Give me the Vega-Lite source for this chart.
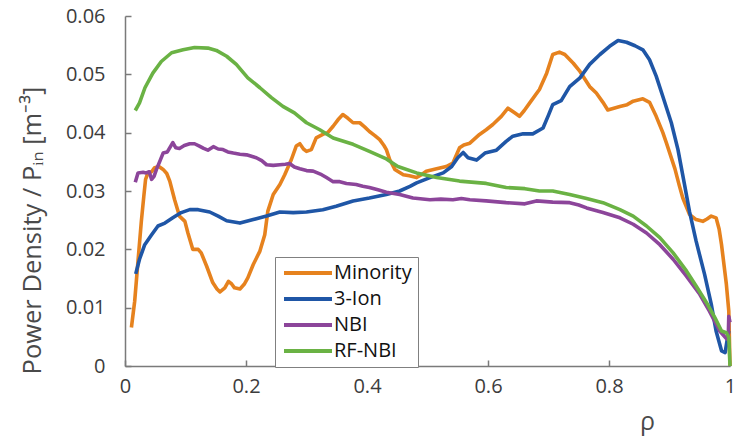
{
  "$schema": "https://vega.github.io/schema/vega-lite/v6.json",
  "width": 605,
  "height": 350,
  "autosize": {"type": "none"},
  "padding": {"left": 125, "top": 16, "right": 6, "bottom": 72},
  "background": "white",
  "config": {
    "view": {"stroke": null},
    "axis": {
      "grid": false,
      "domainColor": "#7a7a7a",
      "domainWidth": 1.5,
      "tickColor": "#7a7a7a",
      "tickWidth": 1.5,
      "tickSize": -6,
      "labelFont": "Open Sans",
      "labelFontSize": 20,
      "labelColor": "#3c3c3c",
      "labelFlush": false,
      "titleFont": "Open Sans",
      "titleColor": "#4a4a4a",
      "titleFontWeight": "normal"
    }
  },
  "datasets": {
    "curves": [
      {"series":"Minority","rho":0.0106,"p":0.0066},{"series":"Minority","rho":0.016,"p":0.0111},{"series":"Minority","rho":0.0215,"p":0.018},{"series":"Minority","rho":0.027,"p":0.0248},{"series":"Minority","rho":0.031,"p":0.029},{"series":"Minority","rho":0.034,"p":0.032},{"series":"Minority","rho":0.038,"p":0.0331},{"series":"Minority","rho":0.044,"p":0.0333},{"series":"Minority","rho":0.049,"p":0.034},{"series":"Minority","rho":0.056,"p":0.0342},{"series":"Minority","rho":0.063,"p":0.0337},{"series":"Minority","rho":0.069,"p":0.033},{"series":"Minority","rho":0.074,"p":0.0317},{"series":"Minority","rho":0.082,"p":0.0285},{"series":"Minority","rho":0.09,"p":0.0257},{"series":"Minority","rho":0.099,"p":0.0248},{"series":"Minority","rho":0.104,"p":0.0228},{"series":"Minority","rho":0.112,"p":0.02},{"series":"Minority","rho":0.121,"p":0.02},{"series":"Minority","rho":0.126,"p":0.0194},{"series":"Minority","rho":0.135,"p":0.0171},{"series":"Minority","rho":0.145,"p":0.0143},{"series":"Minority","rho":0.152,"p":0.0132},{"series":"Minority","rho":0.157,"p":0.0127},{"series":"Minority","rho":0.165,"p":0.0134},{"series":"Minority","rho":0.171,"p":0.0145},{"series":"Minority","rho":0.176,"p":0.0141},{"series":"Minority","rho":0.181,"p":0.0134},{"series":"Minority","rho":0.19,"p":0.0132},{"series":"Minority","rho":0.197,"p":0.014},{"series":"Minority","rho":0.203,"p":0.0151},{"series":"Minority","rho":0.212,"p":0.0174},{"series":"Minority","rho":0.223,"p":0.0197},{"series":"Minority","rho":0.231,"p":0.0225},{"series":"Minority","rho":0.236,"p":0.0265},{"series":"Minority","rho":0.245,"p":0.0294},{"series":"Minority","rho":0.256,"p":0.0311},{"series":"Minority","rho":0.264,"p":0.0328},{"series":"Minority","rho":0.275,"p":0.0354},{"series":"Minority","rho":0.283,"p":0.0377},{"series":"Minority","rho":0.289,"p":0.0381},{"series":"Minority","rho":0.295,"p":0.0372},{"series":"Minority","rho":0.3,"p":0.0368},{"series":"Minority","rho":0.308,"p":0.0371},{"series":"Minority","rho":0.316,"p":0.0391},{"series":"Minority","rho":0.327,"p":0.0397},{"series":"Minority","rho":0.335,"p":0.04},{"series":"Minority","rho":0.344,"p":0.0411},{"series":"Minority","rho":0.352,"p":0.0422},{"series":"Minority","rho":0.36,"p":0.0431},{"series":"Minority","rho":0.368,"p":0.0425},{"series":"Minority","rho":0.377,"p":0.0417},{"series":"Minority","rho":0.388,"p":0.0417},{"series":"Minority","rho":0.396,"p":0.041},{"series":"Minority","rho":0.404,"p":0.0402},{"series":"Minority","rho":0.413,"p":0.0395},{"series":"Minority","rho":0.421,"p":0.0388},{"series":"Minority","rho":0.428,"p":0.0378},{"series":"Minority","rho":0.432,"p":0.0371},{"series":"Minority","rho":0.4375,"p":0.0354},{"series":"Minority","rho":0.446,"p":0.0337},{"series":"Minority","rho":0.46,"p":0.0328},{"series":"Minority","rho":0.47,"p":0.0326},{"series":"Minority","rho":0.482,"p":0.0323},{"series":"Minority","rho":0.49,"p":0.0328},{"series":"Minority","rho":0.498,"p":0.0334},{"series":"Minority","rho":0.515,"p":0.0338},{"series":"Minority","rho":0.531,"p":0.0342},{"series":"Minority","rho":0.542,"p":0.0348},{"series":"Minority","rho":0.553,"p":0.0374},{"series":"Minority","rho":0.56,"p":0.0379},{"series":"Minority","rho":0.57,"p":0.0382},{"series":"Minority","rho":0.586,"p":0.0397},{"series":"Minority","rho":0.597,"p":0.0405},{"series":"Minority","rho":0.608,"p":0.0414},{"series":"Minority","rho":0.622,"p":0.0428},{"series":"Minority","rho":0.633,"p":0.0442},{"series":"Minority","rho":0.644,"p":0.0434},{"series":"Minority","rho":0.652,"p":0.0428},{"series":"Minority","rho":0.66,"p":0.0438},{"series":"Minority","rho":0.669,"p":0.0451},{"series":"Minority","rho":0.685,"p":0.0474},{"series":"Minority","rho":0.697,"p":0.0502},{"series":"Minority","rho":0.707,"p":0.0534},{"series":"Minority","rho":0.718,"p":0.0538},{"series":"Minority","rho":0.727,"p":0.0534},{"series":"Minority","rho":0.741,"p":0.0519},{"series":"Minority","rho":0.752,"p":0.0505},{"series":"Minority","rho":0.768,"p":0.0479},{"series":"Minority","rho":0.779,"p":0.0468},{"series":"Minority","rho":0.79,"p":0.0452},{"series":"Minority","rho":0.798,"p":0.0439},{"series":"Minority","rho":0.808,"p":0.0442},{"series":"Minority","rho":0.818,"p":0.0445},{"series":"Minority","rho":0.83,"p":0.0448},{"series":"Minority","rho":0.84,"p":0.0454},{"series":"Minority","rho":0.856,"p":0.0458},{"series":"Minority","rho":0.867,"p":0.0452},{"series":"Minority","rho":0.878,"p":0.0428},{"series":"Minority","rho":0.889,"p":0.04},{"series":"Minority","rho":0.895,"p":0.0382},{"series":"Minority","rho":0.909,"p":0.0338},{"series":"Minority","rho":0.916,"p":0.031},{"series":"Minority","rho":0.922,"p":0.0288},{"series":"Minority","rho":0.933,"p":0.026},{"series":"Minority","rho":0.944,"p":0.0251},{"series":"Minority","rho":0.955,"p":0.0248},{"series":"Minority","rho":0.962,"p":0.0252},{"series":"Minority","rho":0.969,"p":0.0257},{"series":"Minority","rho":0.977,"p":0.0254},{"series":"Minority","rho":0.982,"p":0.0235},{"series":"Minority","rho":0.986,"p":0.0208},{"series":"Minority","rho":0.994,"p":0.014},{"series":"Minority","rho":0.998,"p":0.0094},{"series":"Minority","rho":1.0,"p":0.0},
      {"series":"3-Ion","rho":0.0177,"p":0.0158},{"series":"3-Ion","rho":0.024,"p":0.0183},{"series":"3-Ion","rho":0.0326,"p":0.0208},{"series":"3-Ion","rho":0.044,"p":0.0225},{"series":"3-Ion","rho":0.0545,"p":0.024},{"series":"3-Ion","rho":0.066,"p":0.0245},{"series":"3-Ion","rho":0.079,"p":0.0254},{"series":"3-Ion","rho":0.093,"p":0.0263},{"series":"3-Ion","rho":0.107,"p":0.0268},{"series":"3-Ion","rho":0.121,"p":0.0268},{"series":"3-Ion","rho":0.14,"p":0.0264},{"series":"3-Ion","rho":0.154,"p":0.0257},{"series":"3-Ion","rho":0.168,"p":0.0249},{"series":"3-Ion","rho":0.19,"p":0.0245},{"series":"3-Ion","rho":0.212,"p":0.0251},{"series":"3-Ion","rho":0.234,"p":0.0257},{"series":"3-Ion","rho":0.256,"p":0.0264},{"series":"3-Ion","rho":0.278,"p":0.0263},{"series":"3-Ion","rho":0.3,"p":0.0264},{"series":"3-Ion","rho":0.327,"p":0.0268},{"series":"3-Ion","rho":0.349,"p":0.0274},{"series":"3-Ion","rho":0.377,"p":0.0283},{"series":"3-Ion","rho":0.404,"p":0.0288},{"series":"3-Ion","rho":0.432,"p":0.0294},{"series":"3-Ion","rho":0.454,"p":0.03},{"series":"3-Ion","rho":0.471,"p":0.0308},{"series":"3-Ion","rho":0.482,"p":0.0314},{"series":"3-Ion","rho":0.504,"p":0.0323},{"series":"3-Ion","rho":0.526,"p":0.0331},{"series":"3-Ion","rho":0.54,"p":0.0342},{"series":"3-Ion","rho":0.55,"p":0.0357},{"series":"3-Ion","rho":0.559,"p":0.0366},{"series":"3-Ion","rho":0.567,"p":0.0357},{"series":"3-Ion","rho":0.581,"p":0.0353},{"series":"3-Ion","rho":0.595,"p":0.0365},{"series":"3-Ion","rho":0.614,"p":0.037},{"series":"3-Ion","rho":0.63,"p":0.0385},{"series":"3-Ion","rho":0.641,"p":0.0394},{"series":"3-Ion","rho":0.658,"p":0.0398},{"series":"3-Ion","rho":0.674,"p":0.0398},{"series":"3-Ion","rho":0.691,"p":0.0408},{"series":"3-Ion","rho":0.7,"p":0.043},{"series":"3-Ion","rho":0.707,"p":0.0448},{"series":"3-Ion","rho":0.721,"p":0.0455},{"series":"3-Ion","rho":0.735,"p":0.0479},{"series":"3-Ion","rho":0.752,"p":0.0494},{"series":"3-Ion","rho":0.768,"p":0.0517},{"series":"3-Ion","rho":0.785,"p":0.0534},{"series":"3-Ion","rho":0.801,"p":0.0548},{"series":"3-Ion","rho":0.815,"p":0.0558},{"series":"3-Ion","rho":0.829,"p":0.0555},{"series":"3-Ion","rho":0.843,"p":0.0549},{"series":"3-Ion","rho":0.856,"p":0.0542},{"series":"3-Ion","rho":0.867,"p":0.0525},{"series":"3-Ion","rho":0.878,"p":0.0497},{"series":"3-Ion","rho":0.889,"p":0.0462},{"series":"3-Ion","rho":0.903,"p":0.0417},{"series":"3-Ion","rho":0.914,"p":0.0371},{"series":"3-Ion","rho":0.925,"p":0.031},{"series":"3-Ion","rho":0.933,"p":0.0265},{"series":"3-Ion","rho":0.944,"p":0.0214},{"series":"3-Ion","rho":0.958,"p":0.0157},{"series":"3-Ion","rho":0.969,"p":0.0106},{"series":"3-Ion","rho":0.977,"p":0.006},{"series":"3-Ion","rho":0.986,"p":0.0026},{"series":"3-Ion","rho":0.992,"p":0.0023},{"series":"3-Ion","rho":0.995,"p":0.0043},{"series":"3-Ion","rho":0.998,"p":0.006},
      {"series":"NBI","rho":0.017,"p":0.0315},{"series":"NBI","rho":0.0215,"p":0.0331},{"series":"NBI","rho":0.03,"p":0.0332},{"series":"NBI","rho":0.035,"p":0.0331},{"series":"NBI","rho":0.04,"p":0.0333},{"series":"NBI","rho":0.044,"p":0.032},{"series":"NBI","rho":0.048,"p":0.0325},{"series":"NBI","rho":0.052,"p":0.0337},{"series":"NBI","rho":0.058,"p":0.0352},{"series":"NBI","rho":0.063,"p":0.0365},{"series":"NBI","rho":0.07,"p":0.0367},{"series":"NBI","rho":0.079,"p":0.0383},{"series":"NBI","rho":0.084,"p":0.0374},{"series":"NBI","rho":0.09,"p":0.0373},{"series":"NBI","rho":0.098,"p":0.0378},{"series":"NBI","rho":0.107,"p":0.0381},{"series":"NBI","rho":0.115,"p":0.0381},{"series":"NBI","rho":0.123,"p":0.0377},{"series":"NBI","rho":0.13,"p":0.0373},{"series":"NBI","rho":0.137,"p":0.037},{"series":"NBI","rho":0.146,"p":0.0376},{"series":"NBI","rho":0.154,"p":0.0372},{"series":"NBI","rho":0.162,"p":0.0371},{"series":"NBI","rho":0.17,"p":0.0367},{"series":"NBI","rho":0.179,"p":0.0365},{"series":"NBI","rho":0.19,"p":0.0363},{"series":"NBI","rho":0.201,"p":0.0362},{"series":"NBI","rho":0.217,"p":0.0357},{"series":"NBI","rho":0.226,"p":0.0352},{"series":"NBI","rho":0.234,"p":0.0345},{"series":"NBI","rho":0.245,"p":0.0344},{"series":"NBI","rho":0.256,"p":0.0345},{"series":"NBI","rho":0.265,"p":0.0346},{"series":"NBI","rho":0.272,"p":0.0347},{"series":"NBI","rho":0.28,"p":0.0341},{"series":"NBI","rho":0.289,"p":0.0338},{"series":"NBI","rho":0.3,"p":0.0335},{"series":"NBI","rho":0.311,"p":0.0334},{"series":"NBI","rho":0.325,"p":0.0328},{"series":"NBI","rho":0.333,"p":0.0323},{"series":"NBI","rho":0.344,"p":0.0316},{"series":"NBI","rho":0.355,"p":0.0316},{"series":"NBI","rho":0.366,"p":0.0313},{"series":"NBI","rho":0.382,"p":0.0311},{"series":"NBI","rho":0.393,"p":0.0308},{"series":"NBI","rho":0.404,"p":0.0306},{"series":"NBI","rho":0.418,"p":0.0302},{"series":"NBI","rho":0.432,"p":0.0298},{"series":"NBI","rho":0.454,"p":0.0294},{"series":"NBI","rho":0.476,"p":0.0288},{"series":"NBI","rho":0.504,"p":0.0285},{"series":"NBI","rho":0.522,"p":0.0286},{"series":"NBI","rho":0.542,"p":0.0285},{"series":"NBI","rho":0.556,"p":0.0287},{"series":"NBI","rho":0.57,"p":0.0285},{"series":"NBI","rho":0.597,"p":0.0283},{"series":"NBI","rho":0.63,"p":0.028},{"series":"NBI","rho":0.661,"p":0.0278},{"series":"NBI","rho":0.68,"p":0.0283},{"series":"NBI","rho":0.707,"p":0.0281},{"series":"NBI","rho":0.735,"p":0.028},{"series":"NBI","rho":0.75,"p":0.0276},{"series":"NBI","rho":0.763,"p":0.0271},{"series":"NBI","rho":0.79,"p":0.0263},{"series":"NBI","rho":0.818,"p":0.0254},{"series":"NBI","rho":0.84,"p":0.0243},{"series":"NBI","rho":0.862,"p":0.0228},{"series":"NBI","rho":0.884,"p":0.0208},{"series":"NBI","rho":0.906,"p":0.0183},{"series":"NBI","rho":0.928,"p":0.0154},{"series":"NBI","rho":0.95,"p":0.0123},{"series":"NBI","rho":0.966,"p":0.0094},{"series":"NBI","rho":0.983,"p":0.006},{"series":"NBI","rho":0.994,"p":0.0047},{"series":"NBI","rho":0.997,"p":0.0045},{"series":"NBI","rho":0.998,"p":0.0085},{"series":"NBI","rho":1.0,"p":0.0075},
      {"series":"RF-NBI","rho":0.017,"p":0.0438},{"series":"RF-NBI","rho":0.024,"p":0.0451},{"series":"RF-NBI","rho":0.033,"p":0.0477},{"series":"RF-NBI","rho":0.046,"p":0.0502},{"series":"RF-NBI","rho":0.06,"p":0.0522},{"series":"RF-NBI","rho":0.077,"p":0.0537},{"series":"RF-NBI","rho":0.096,"p":0.0542},{"series":"RF-NBI","rho":0.115,"p":0.0546},{"series":"RF-NBI","rho":0.137,"p":0.0545},{"series":"RF-NBI","rho":0.151,"p":0.0541},{"series":"RF-NBI","rho":0.168,"p":0.0531},{"series":"RF-NBI","rho":0.184,"p":0.0517},{"series":"RF-NBI","rho":0.203,"p":0.0494},{"series":"RF-NBI","rho":0.223,"p":0.0477},{"series":"RF-NBI","rho":0.242,"p":0.046},{"series":"RF-NBI","rho":0.261,"p":0.0445},{"series":"RF-NBI","rho":0.28,"p":0.0434},{"series":"RF-NBI","rho":0.3,"p":0.0417},{"series":"RF-NBI","rho":0.322,"p":0.0405},{"series":"RF-NBI","rho":0.344,"p":0.0391},{"series":"RF-NBI","rho":0.377,"p":0.038},{"series":"RF-NBI","rho":0.404,"p":0.0368},{"series":"RF-NBI","rho":0.432,"p":0.0355},{"series":"RF-NBI","rho":0.451,"p":0.0342},{"series":"RF-NBI","rho":0.482,"p":0.0331},{"series":"RF-NBI","rho":0.515,"p":0.0323},{"series":"RF-NBI","rho":0.553,"p":0.0317},{"series":"RF-NBI","rho":0.597,"p":0.0313},{"series":"RF-NBI","rho":0.63,"p":0.0306},{"series":"RF-NBI","rho":0.661,"p":0.0304},{"series":"RF-NBI","rho":0.685,"p":0.03},{"series":"RF-NBI","rho":0.707,"p":0.03},{"series":"RF-NBI","rho":0.735,"p":0.0294},{"series":"RF-NBI","rho":0.763,"p":0.0287},{"series":"RF-NBI","rho":0.79,"p":0.028},{"series":"RF-NBI","rho":0.818,"p":0.0268},{"series":"RF-NBI","rho":0.84,"p":0.0257},{"series":"RF-NBI","rho":0.862,"p":0.024},{"series":"RF-NBI","rho":0.884,"p":0.022},{"series":"RF-NBI","rho":0.906,"p":0.0194},{"series":"RF-NBI","rho":0.928,"p":0.0163},{"series":"RF-NBI","rho":0.944,"p":0.0137},{"series":"RF-NBI","rho":0.961,"p":0.0109},{"series":"RF-NBI","rho":0.975,"p":0.0083},{"series":"RF-NBI","rho":0.986,"p":0.006},{"series":"RF-NBI","rho":0.994,"p":0.0057},{"series":"RF-NBI","rho":0.998,"p":0.0049},{"series":"RF-NBI","rho":1.0,"p":0.0}
    ]
  },
  "data": {"name": "curves"},
  "mark": {"type": "line", "strokeWidth": 3.6, "strokeJoin": "round"},
  "encoding": {
    "x": {
      "field": "rho", "type": "quantitative",
      "scale": {"domain": [0, 1], "nice": false},
      "axis": {
        "values": [0, 0.2, 0.4, 0.6, 0.8, 1],
        "format": "~g",
        "labelPadding": 16,
        "title": "ρ",
        "titleFontSize": 25,
        "titleX": 522,
        "titleY": 55,
        "titleAlign": "center",
        "titleBaseline": "middle"
      }
    },
    "y": {
      "field": "p", "type": "quantitative",
      "scale": {"domain": [0, 0.06], "nice": false},
      "axis": {
        "values": [0, 0.01, 0.02, 0.03, 0.04, 0.05, 0.06],
        "format": "~g",
        "labelPadding": 26,
        "title": "Power Density / Pᵢₙ  [m⁻³]",
        "titleFontSize": 25.5,
        "titleAngle": -90,
        "titleX": -93,
        "titleY": 214,
        "titleAlign": "center",
        "titleBaseline": "middle"
      }
    },
    "color": {
      "field": "series", "type": "nominal",
      "sort": ["Minority", "3-Ion", "NBI", "RF-NBI"],
      "scale": {
        "domain": ["Minority", "3-Ion", "NBI", "RF-NBI"],
        "range": ["#E6821E", "#1F56A6", "#8C459A", "#6AB244"]
      },
      "legend": {
        "orient": "none",
        "legendX": 150,
        "legendY": 241,
        "title": null,
        "symbolType": "stroke",
        "symbolSize": 2304,
        "symbolStrokeWidth": 4,
        "symbolOffset": 1,
        "clipHeight": 20,
        "labelFont": "Open Sans",
        "labelFontSize": 20,
        "labelColor": "#111111",
        "labelOffset": 0,
        "labelExpr": "datum.label + '   '",
        "padding": 6,
        "rowPadding": 6,
        "strokeColor": "#808080",
        "fillColor": "white"
      }
    }
  }
}
